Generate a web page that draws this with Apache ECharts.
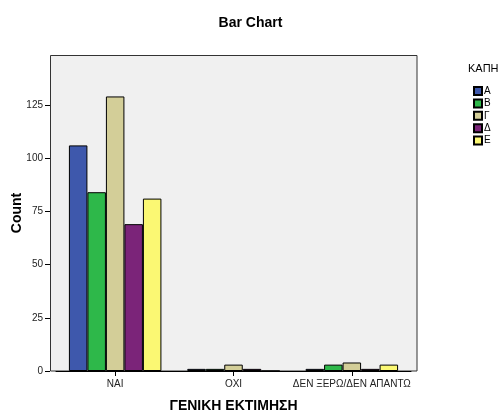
<!DOCTYPE html>
<html><head><meta charset="utf-8">
<script src="https://cdn.jsdelivr.net/npm/echarts@6/dist/echarts.min.js"></script>
<style>html,body{margin:0;padding:0;background:#fff}#c{width:501px;height:412px}</style>
</head><body><div id="c"></div>
<script>
const categories = ['ΝΑΙ', 'ΟΧΙ', 'ΔΕΝ ΞΕΡΩ/ΔΕΝ ΑΠΑΝΤΩ'];
const seriesNames = ['Α', 'Β', 'Γ', 'Δ', 'Ε'];
const valuesA = [106, 1, 1];
const valuesB = [84, 1, 3];
const valuesG = [129, 3, 4];
const valuesD = [69, 1, 1];
const valuesE = [81, 0, 3];
const colors = ['#3e58ac', '#2eb84a', '#d3ce98', '#7b2479', '#fbf873'];
const yTicks = [0, 25, 50, 75, 100, 125];
const yAxisTitle = 'Count';

const allValues = [valuesA, valuesB, valuesG, valuesD, valuesE];
const font = 'Liberation Sans, Arial, sans-serif';
const chart = echarts.init(document.getElementById('c'));
chart.setOption({
  animation: false,
  textStyle: { fontFamily: font },
  title: [
    { text: 'Bar Chart', left: 'center', top: 11, textStyle: { fontSize: 14, fontWeight: 'bold', color: '#000', fontFamily: font } },
    { text: 'ΚΑΠΗ', left: 463, top: 58, textStyle: { fontSize: 11, fontWeight: 'normal', color: '#000', fontFamily: font } }
  ],
  legend: {
    orient: 'vertical', left: 468, top: 81, itemWidth: 8, itemHeight: 8, itemGap: 2.4,
    icon: 'rect', textStyle: { fontSize: 10, color: '#000', padding: [0, 0, 0, -3] },
    data: seriesNames
  },
  graphic: [{
    type: 'rect', z: -10, silent: true,
    shape: { x: 50.5, y: 55.5, width: 366.5, height: 315.5 },
    style: { fill: '#f0f0f0', stroke: '#333', lineWidth: 1 }
  }, {
    type: 'text', x: 17, y: 213, rotation: Math.PI / 2, silent: true,
    style: { text: yAxisTitle, font: 'bold 14px Liberation Sans, Arial, sans-serif', fill: '#000',
      align: 'center', verticalAlign: 'middle' }
  }],
  grid: { left: 56, right: 90, top: 56, bottom: 41, outerBoundsMode: 'none', containLabel: false },
  xAxis: {
    type: 'category', data: categories,
    name: 'ΓΕΝΙΚΗ ΕΚΤΙΜΗΣΗ', nameLocation: 'middle', nameGap: 28, nameMoveOverlap: false,
    nameTextStyle: { fontSize: 14, fontWeight: 'bold', color: '#000' },
    axisLine: { show: true, lineStyle: { color: '#000' } },
    axisTick: { show: true, alignWithLabel: true, length: 5, lineStyle: { color: '#000' } },
    axisLabel: { fontSize: 10, color: '#222', margin: 8, interval: 0, hideOverlap: false }
  },
  yAxis: {
    type: 'value', min: 0, max: 148, interval: 25, offset: 6,
    axisLine: { show: false },
    axisTick: { show: true, length: 5, lineStyle: { color: '#000' }, customValues: yTicks },
    splitLine: { show: false },
    axisLabel: { fontSize: 10, color: '#222', margin: 7, customValues: yTicks }
  },
  series: seriesNames.map((n, i) => ({
    name: n, type: 'bar', data: allValues[i], barWidth: 18.5, barGap: '0%',
    itemStyle: { color: colors[i], borderColor: '#000', borderWidth: 1 }
  }))
});
</script></body></html>
